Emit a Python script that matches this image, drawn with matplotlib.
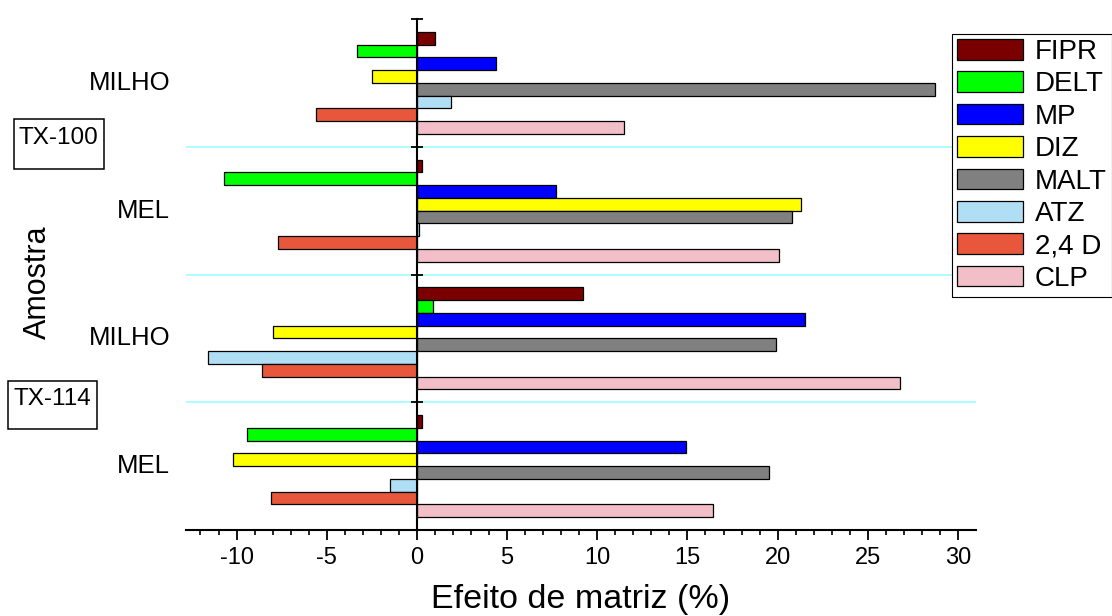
import numpy as np
import matplotlib
matplotlib.use('Agg')
import matplotlib.pyplot as plt
from matplotlib.patches import Rectangle

plt.rcParams['font.family'] = ['Liberation Sans', 'DejaVu Sans']
plt.rcParams['axes.unicode_minus'] = False

# amostras de cima para baixo
amostras = ['MILHO', 'MEL', 'MILHO', 'MEL']
surfactantes = ['TX-100', 'TX-114']
compostos = ['FIPR', 'DELT', 'MP', 'DIZ', 'MALT', 'ATZ', '2,4 D', 'CLP']
cores = ['#7a0000', '#00ff00', '#0000ff', '#ffff00', '#808080', '#b0dff5', '#e8573c', '#f2bec7']

# efeito de matriz (%) por composto
milho_tx100 = [1.0, -3.3, 4.4, -2.5, 28.7, 1.9, -5.6, 11.5]
mel_tx100 = [0.3, -10.7, 7.7, 21.3, 20.8, 0.12, -7.7, 20.1]
milho_tx114 = [9.2, 0.9, 21.5, -8.0, 19.9, -11.6, -8.6, 26.8]
mel_tx114 = [0.3, -9.4, 14.9, -10.2, 19.5, -1.5, -8.1, 16.4]

efeitos = np.array([milho_tx100, mel_tx100, milho_tx114, mel_tx114])

fig = plt.figure(figsize=(11.12, 6.16), dpi=100)
ax = fig.add_axes([0.1673, 0.1396, 0.7104, 0.8295])

n = len(amostras)
h = 0.1
for j, (nome, cor) in enumerate(zip(compostos, cores)):
    y = n - np.arange(n) - 0.15 - h * j
    ax.barh(y, efeitos[:, j], height=h, color=cor, edgecolor='black',
            linewidth=0.9, label=nome)

# linhas separando as amostras
for k in range(1, n):
    ax.axhline(k, color='#9ffcff', lw=1.2, zorder=0)

ax.set_xlim(-12.8, 31.0)
ax.set_ylim(0, n)
ax.spines['left'].set_position(('data', 0))
ax.spines['left'].set_linewidth(1.5)
ax.spines['bottom'].set_linewidth(1.5)
ax.spines['top'].set_visible(False)
ax.spines['right'].set_visible(False)

ax.set_yticks(range(n + 1))
ax.set_yticklabels([])
ax.tick_params(axis='y', direction='inout', length=8, width=1.3)
ax.set_xticks(np.arange(-10, 31, 5))
ax.set_xticks(np.arange(-12, 31), minor=True)
ax.tick_params(axis='x', which='major', direction='out', length=7, width=1.3,
               labelsize=17, pad=5)
ax.tick_params(axis='x', which='minor', direction='out', length=3.5, width=1.2)

centros = n - np.arange(n) - 0.5
for yc, nome in zip(centros, amostras):
    ax.text(-0.02, yc, nome, transform=ax.get_yaxis_transform(),
            ha='right', va='center', fontsize=18.5)

# caixas com o surfactante
caixas = [(0.0126, 0.7256, 0.0809, 0.0812, 0.0526, 0.7752),
          (0.0072, 0.3036, 0.0800, 0.0779, 0.0468, 0.3530)]
for nome, (x0, y0, w, hh, tx, ty) in zip(surfactantes, caixas):
    fig.add_artist(Rectangle((x0, y0), w, hh, transform=fig.transFigure,
                             fill=False, edgecolor='black', lw=1.1))
    fig.text(tx, ty, nome, ha='center', va='center', fontsize=17.5)

ax.set_xlabel('Efeito de matriz (%)', fontsize=24.5)
ax.xaxis.set_label_coords(0.5, -0.105)
ax.set_ylabel('Amostra', fontsize=22)
ax.yaxis.set_label_coords(-0.168, 0.485)

leg = ax.legend(loc='upper left', bbox_to_anchor=(952 / 1112, 1 - 34 / 616),
                bbox_transform=fig.transFigure, fontsize=20, handlelength=2.37,
                handleheight=0.76, handletextpad=0.43, labelspacing=0.23,
                borderpad=0.18, borderaxespad=0, fancybox=False,
                edgecolor='black', framealpha=1)
leg.get_frame().set_linewidth(0.8)

fig.savefig('out.png', dpi=100)
